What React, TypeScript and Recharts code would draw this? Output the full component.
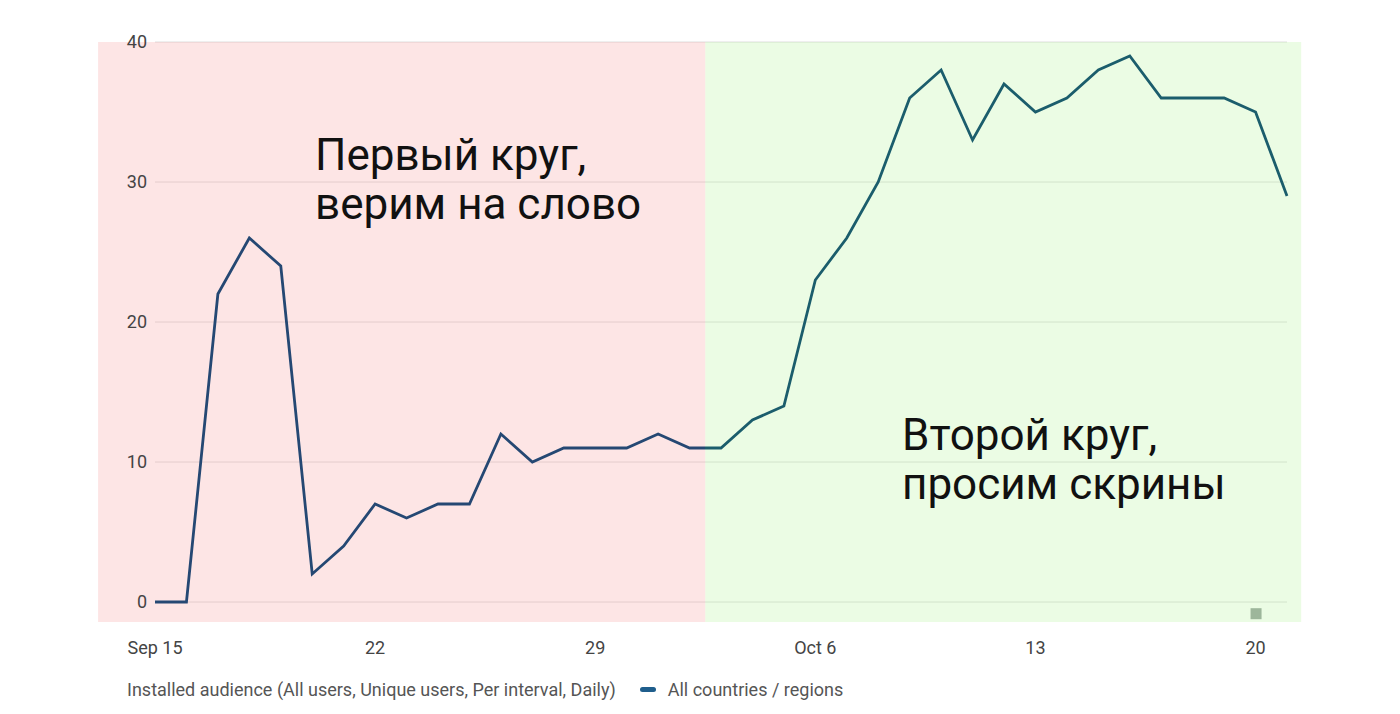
import React from 'react';
import { LineChart, Line, XAxis, YAxis, CartesianGrid, ReferenceArea, ReferenceDot } from 'recharts';

// daily installed audience, Sep 15 .. Oct 21
const days = [
  'Sep 15', 'Sep 16', 'Sep 17', 'Sep 18', 'Sep 19', 'Sep 20', 'Sep 21', 'Sep 22', 'Sep 23', 'Sep 24',
  'Sep 25', 'Sep 26', 'Sep 27', 'Sep 28', 'Sep 29', 'Sep 30', 'Oct 1', 'Oct 2', 'Oct 3', 'Oct 4',
  'Oct 5', 'Oct 6', 'Oct 7', 'Oct 8', 'Oct 9', 'Oct 10', 'Oct 11', 'Oct 12', 'Oct 13', 'Oct 14',
  'Oct 15', 'Oct 16', 'Oct 17', 'Oct 18', 'Oct 19', 'Oct 20', 'Oct 21',
];
const installs = [
  0, 0, 22, 26, 24, 2, 4, 7, 6, 7,
  7, 12, 10, 11, 11, 11, 12, 11, 11, 13,
  14, 23, 26, 30, 36, 38, 33, 37, 35, 36,
  38, 39, 36, 36, 36, 35, 29,
];
const xTicks = [0, 7, 14, 21, 28, 35];
const xTickLabels = ['Sep 15', '22', '29', 'Oct 6', '13', '20'];
const yTicks = [0, 10, 20, 30, 40];

const data = days.map((d, i) => ({ day: i, label: d, value: installs[i] }));

const font = 'Roboto, "Noto Sans", sans-serif';

const App: React.FC = () => {
  return (
    <div style={{ position: 'absolute', left: 0, top: 0, width: 1400, height: 714, background: '#fff', fontFamily: font }}>
      <LineChart width={1400} height={714} data={data} margin={{ top: 42, right: 113, left: 98, bottom: 82 }}>
        <defs>
          <linearGradient id="lineColor" x1="0" y1="0" x2="1" y2="0">
            <stop offset="0.486" stopColor="#254873" />
            <stop offset="0.486" stopColor="#1b5d6c" />
          </linearGradient>
        </defs>
        <CartesianGrid vertical={false} stroke="#dedede" strokeWidth={1} />
        <XAxis
          dataKey="day"
          type="number"
          domain={[0, 36]}
          ticks={xTicks}
          tickFormatter={(v: number) => xTickLabels[xTicks.indexOf(v)]}
          axisLine={false}
          tickLine={false}
          tickSize={0}
          tickMargin={39}
          height={30}
          tick={{ fill: '#444', fontSize: 18, fontFamily: font }}
          interval={0}
        />
        <YAxis
          width={57}
          domain={[0, 40]}
          ticks={yTicks}
          axisLine={false}
          tickLine={false}
          tickSize={0}
          tickMargin={8}
          tick={{ fill: '#444', fontSize: 18, fontFamily: font }}
        />
        <ReferenceArea x1={-1.81} x2={17.5} y1={-1.43} y2={40} ifOverflow="visible" fill="#f79a9a" fillOpacity={0.26} stroke="none" />
        <ReferenceArea x1={17.5} x2={36.45} y1={-1.43} y2={40} ifOverflow="visible" fill="#b0f596" fillOpacity={0.26} stroke="none" />
        <ReferenceDot
          x={35}
          y={-0.8}
          ifOverflow="visible"
          shape={(p: any) => <rect x={p.cx - 5} y={p.cy - 5} width={11} height={11} fill="#9db69b" />}
        />
        <Line
          type="linear"
          dataKey="value"
          stroke="url(#lineColor)"
          strokeWidth={2.8}
          dot={false}
          activeDot={false}
          isAnimationActive={false}
        />
      </LineChart>

      <div style={{ position: 'absolute', left: 315, top: 131, fontFamily: font, fontSize: 44, lineHeight: '49px', color: '#111' }}>
        Первый круг,<br />верим на слово
      </div>
      <div style={{ position: 'absolute', left: 902, top: 411, fontFamily: font, fontSize: 44, lineHeight: '49px', color: '#111' }}>
        Второй круг,<br />просим скрины
      </div>

      <div style={{ position: 'absolute', left: 127, top: 679, fontSize: 18, color: '#555', display: 'flex', alignItems: 'center', whiteSpace: 'nowrap' }}>
        <span>Installed audience (All users, Unique users, Per interval, Daily)</span>
        <span style={{ display: 'inline-block', width: 16, height: 5, borderRadius: 3, background: '#1f5e8c', marginLeft: 24, marginRight: 12 }} />
        <span>All countries / regions</span>
      </div>
    </div>
  );
};

export default App;
